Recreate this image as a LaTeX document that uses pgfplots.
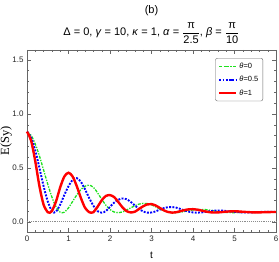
\documentclass[border=0pt]{standalone}
\usepackage{pgfplots}
\usepackage{pgfplotstable}
\pgfplotsset{compat=1.18}
\usepackage{fontspec}
\setmainfont{Liberation Sans}
\newfontfamily\seriffont{Liberation Serif}
\definecolor{brightgreen}{RGB}{30,225,30}

\pgfplotstableread{
t y
0 0.835
0.1 0.75
0.2 0.56
0.3 0.33
0.4 0.16
0.5 0.09
0.55 0.085
0.6 0.10
0.7 0.19
0.8 0.32
0.9 0.42
1.0 0.455
1.1 0.42
1.2 0.33
1.3 0.22
1.4 0.13
1.5 0.09
1.55 0.085
1.6 0.09
1.7 0.14
1.8 0.20
1.9 0.24
2.0 0.248
2.1 0.23
2.2 0.185
2.3 0.135
2.4 0.10
2.5 0.088
2.6 0.095
2.7 0.12
2.8 0.145
2.9 0.162
3.0 0.165
3.1 0.152
3.2 0.13
3.3 0.107
3.4 0.092
3.5 0.086
3.6 0.09
3.7 0.10
3.8 0.11
3.9 0.117
4.0 0.118
4.1 0.114
4.2 0.106
4.3 0.097
4.4 0.090
4.5 0.087
4.6 0.088
4.8 0.095
5.0 0.099
5.2 0.094
5.5 0.088
5.8 0.091
6.0 0.092
}\redtab

\pgfplotstableread{
t y
0 0.835
0.1 0.78
0.2 0.66
0.3 0.50
0.4 0.33
0.5 0.19
0.6 0.10
0.65 0.086
0.7 0.095
0.8 0.16
0.9 0.25
1.0 0.33
1.1 0.39
1.2 0.405
1.3 0.37
1.4 0.30
1.5 0.22
1.6 0.15
1.7 0.10
1.8 0.086
1.9 0.10
2.0 0.14
2.1 0.178
2.2 0.205
2.3 0.217
2.4 0.21
2.5 0.185
2.6 0.152
2.7 0.12
2.8 0.097
2.9 0.086
3.0 0.087
3.1 0.098
3.2 0.114
3.3 0.128
3.4 0.137
3.5 0.138
3.6 0.132
3.7 0.12
3.8 0.106
3.9 0.095
4.0 0.088
4.1 0.086
4.2 0.088
4.3 0.093
4.4 0.099
4.5 0.104
4.6 0.106
4.7 0.105
4.8 0.101
4.9 0.097
5.0 0.093
5.2 0.087
5.4 0.088
5.6 0.092
5.8 0.094
6.0 0.092
}\bluetab

\pgfplotstableread{
t y
0 0.835
0.1 0.80
0.2 0.72
0.3 0.61
0.4 0.48
0.5 0.35
0.6 0.23
0.7 0.14
0.8 0.09
0.85 0.085
0.9 0.09
1.0 0.13
1.1 0.19
1.2 0.25
1.3 0.30
1.4 0.33
1.5 0.34
1.6 0.32
1.7 0.27
1.8 0.21
1.9 0.155
2.0 0.115
2.1 0.092
2.2 0.085
2.3 0.092
2.4 0.11
2.5 0.13
2.6 0.15
2.7 0.165
2.8 0.172
2.9 0.17
3.0 0.158
3.1 0.14
3.2 0.12
3.3 0.103
3.4 0.092
3.5 0.086
3.6 0.086
3.7 0.09
3.8 0.097
3.9 0.105
4.0 0.111
4.1 0.115
4.2 0.116
4.3 0.114
4.4 0.109
4.5 0.103
4.6 0.097
4.8 0.088
5.0 0.086
5.2 0.089
5.4 0.093
5.6 0.095
5.8 0.094
6.0 0.091
}\greentab

\begin{document}
\begin{tikzpicture}
\path[use as bounding box] (-27pt,-30pt) rectangle (252pt,232pt);
\begin{axis}[
  at={(0,0)}, anchor=south west,
  scale only axis, width=249pt, height=182pt,
  xmin=0, xmax=6, ymin=-0.093, ymax=1.59,
  xtick={0,1,2,3,4,5,6}, ytick={0,0.5,1,1.5},
  minor x tick num=4, minor y tick num=4,
  tick align=inside, major tick length=4pt, minor tick length=2pt,
  axis line style={black!60}, tick style={black!60},
  yticklabel style={/pgf/number format/.cd, fixed, fixed zerofill, precision=1},
  /pgf/number format/assume math mode=true,
  tick label style={font=\fontsize{8}{9}\selectfont, black!85},
  xlabel={t},
  xlabel style={at={(axis description cs:0.5,0)}, anchor=center, yshift=-23pt, font=\fontsize{10}{11}\selectfont},
  ylabel={\seriffont E(Sy)},
  ylabel style={at={(axis description cs:-0.084,0.5)}, anchor=center, font=\fontsize{12.5}{13}\selectfont},
  legend style={at={(0.948,0.956)}, anchor=north east, draw=black!60, rounded corners=2pt,
     font=\fontsize{7.5}{9}\selectfont, row sep=2.5pt, inner sep=2.5pt},
  legend cell align=left,
  clip=false,
]
\addplot[black!45, densely dotted, line width=0.9pt, forget plot] coordinates {(0,0) (6,0)};
\addplot[brightgreen, smooth, line width=1.3pt, dash pattern=on 3pt off 1.3pt on 1.3pt off 1.3pt] table[x=t,y=y] {\greentab};
\addlegendentry{\textit{θ}=0}
\addplot[blue, smooth, line width=1.9pt, dash pattern=on 1.9pt off 1.4pt] table[x=t,y=y] {\bluetab};
\addlegendentry{\textit{θ}=0.5}
\addplot[red, smooth, line width=2.4pt] table[x=t,y=y] {\redtab};
\addlegendentry{\textit{θ}=1}
\node[font=\fontsize{11}{12}\selectfont] at (rel axis cs:0.5,1) [yshift=39pt] {(b)};
\node[font=\fontsize{11}{12}\selectfont] at (rel axis cs:0.5,1) [yshift=17pt]
  {Δ = 0, \textit{γ} = 10, \textit{κ} = 1, \textit{α} = $\displaystyle\frac{\mbox{π}}{\mbox{2.5}}$, \textit{β} = $\displaystyle\frac{\mbox{π}}{\mbox{10}}$};
\end{axis}
\end{tikzpicture}
\end{document}
